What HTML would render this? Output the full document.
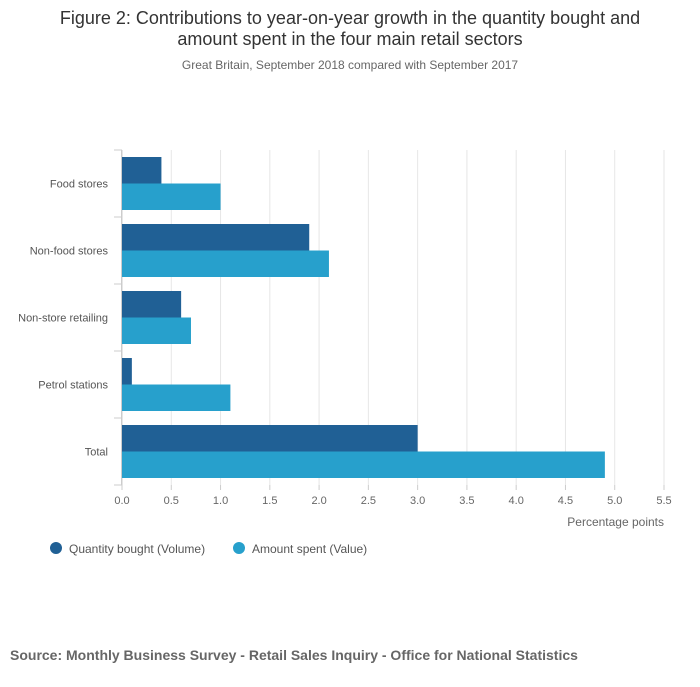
<!DOCTYPE html>
<html><head><meta charset="utf-8"><style>
body{margin:0;background:#fff;font-family:"Liberation Sans",sans-serif;}
svg text{font-family:"Liberation Sans",sans-serif;}
</style></head><body>
<svg id="chart" width="700" height="682" xmlns="http://www.w3.org/2000/svg">
<text x="350" y="24" text-anchor="middle" font-size="18" fill="#333">Figure 2: Contributions to year-on-year growth in the quantity bought and</text>
<text x="350" y="45" text-anchor="middle" font-size="18" fill="#333">amount spent in the four main retail sectors</text>
<text x="350" y="69" text-anchor="middle" font-size="12" fill="#666">Great Britain, September 2018 compared with September 2017</text>
<g id="grid"></g><g id="bars"></g><g id="axes"></g>
<text x="664" y="526" text-anchor="end" font-size="12" fill="#666">Percentage points</text>
<g>
<circle cx="56" cy="548" r="6" fill="#206095"/>
<text x="69" y="553" font-size="12" fill="#555">Quantity bought (Volume)</text>
<circle cx="239" cy="548" r="6" fill="#27a0cc"/>
<text x="252" y="553" font-size="12" fill="#555">Amount spent (Value)</text>
</g>
<text x="10" y="660" font-size="14" font-weight="bold" fill="#666">Source: Monthly Business Survey - Retail Sales Inquiry - Office for National Statistics</text>
</svg>
<script>
const categories=["Food stores","Non-food stores","Non-store retailing","Petrol stations","Total"];
const volumeValues=[0.4,1.9,0.6,0.1,3.0];
const valueValues=[1.0,2.1,0.7,1.1,4.9];
const xTicks=[0,0.5,1,1.5,2,2.5,3,3.5,4,4.5,5,5.5];
const tickLabels=["0.0","0.5","1.0","1.5","2.0","2.5","3.0","3.5","4.0","4.5","5.0","5.5"];
const NS="http://www.w3.org/2000/svg";
const x0=122,x1=664,yTop=150,yBottom=485,xmax=5.5;
const xs=v=>x0+(x1-x0)*v/xmax;
const band=(yBottom-yTop)/categories.length;
function mk(tag,attrs,parent){const e=document.createElementNS(NS,tag);for(const k in attrs)e.setAttribute(k,attrs[k]);parent.appendChild(e);return e;}
const grid=document.getElementById('grid'),bars=document.getElementById('bars'),axes=document.getElementById('axes');
xTicks.forEach((t,i)=>{
 const g=mk('line',{x1:xs(t),x2:xs(t),y1:yTop,y2:yBottom,stroke:i===0?'#ccc':'#e6e6e6'},grid);
 
 
 const tk=mk('line',{x1:xs(t),x2:xs(t),y1:yBottom,y2:yBottom+5,stroke:'#ccc'},axes);
 
 
 const tx=mk('text',{x:xs(t),y:yBottom+19,'text-anchor':'middle','font-size':11,fill:'#666'},axes);
 tx.textContent=tickLabels[i];
 
 
});
const ax=mk('line',{x1:x0-0.5,x2:x0-0.5,y1:yTop,y2:yBottom,stroke:'#ccc'},axes);


for(let i=0;i<=categories.length;i++){
 const y=yTop+i*band;
 const t=mk('line',{x1:x0-8,x2:x0,y1:y,y2:y,stroke:'#ccc'},axes);
 
 
}
const bh=26.5,pad=(band-2*bh)/2;
categories.forEach((c,i)=>{
 const y=yTop+i*band;
 const l=mk('text',{x:x0-14,y:y+band/2+4,'text-anchor':'end','font-size':11,fill:'#555'},axes);
 l.textContent=c;
 
 
 const b1=mk('rect',{x:x0,y:y+pad,width:xs(volumeValues[i])-x0,height:bh,fill:'#206095'},bars);
 
 
 const b2=mk('rect',{x:x0,y:y+pad+bh,width:xs(valueValues[i])-x0,height:bh,fill:'#27a0cc'},bars);
 
 
});
</script>
</body></html>
